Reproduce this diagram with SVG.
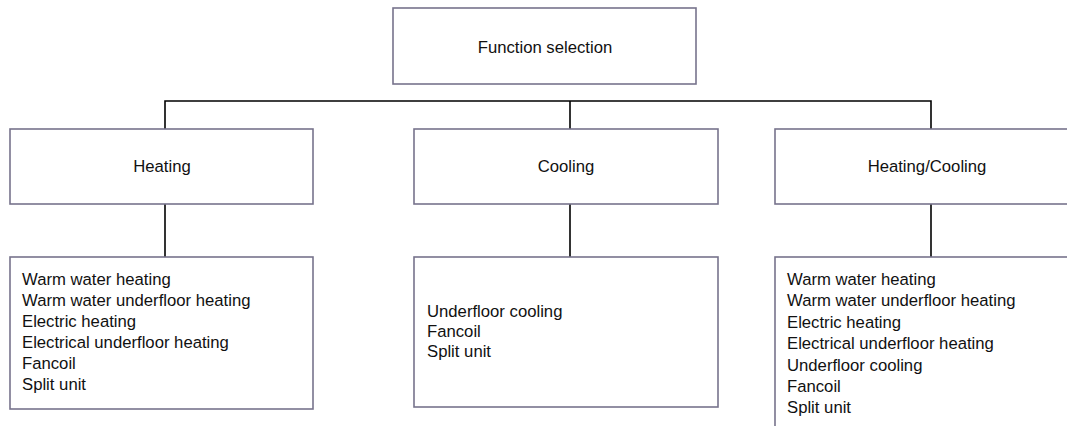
<svg xmlns="http://www.w3.org/2000/svg" width="1067" height="426" viewBox="0 0 1067 426">
<style>
.box{fill:#ffffff;stroke:#77738c;stroke-width:1.6}
.t{font-family:"Liberation Sans",Arial,sans-serif;font-size:16.7px;fill:#111111}
.c{text-anchor:middle}
.conn{fill:none;stroke:#000000;stroke-width:1.6}
</style>
<rect width="1067" height="426" fill="#ffffff"/>
<g id="connectors">
<path class="conn" d="M165,129 V101 H931 V129"/>
<path class="conn" d="M570,101 V129"/>
<path class="conn" d="M165,204 V257"/>
<path class="conn" d="M570,204 V257"/>
<path class="conn" d="M931,204 V257"/>
</g>
<g id="function-selection">
<rect class="box" x="393" y="8" width="303" height="76"/>
<text class="t c" x="545" y="52.5">Function selection</text>
</g>
<g id="heating">
<rect class="box" x="10" y="129" width="303" height="75"/>
<text class="t c" x="162" y="172">Heating</text>
</g>
<g id="cooling">
<rect class="box" x="414" y="129" width="304" height="75"/>
<text class="t c" x="566" y="172">Cooling</text>
</g>
<g id="heating-cooling">
<rect class="box" x="775" y="129" width="303" height="75"/>
<text class="t c" x="927" y="172">Heating/Cooling</text>
</g>
<g id="heating-list">
<rect class="box" x="10" y="257" width="303" height="152"/>
<text class="t" x="22" y="285">Warm water heating</text>
<text class="t" x="22" y="306">Warm water underfloor heating</text>
<text class="t" x="22" y="327">Electric heating</text>
<text class="t" x="22" y="348">Electrical underfloor heating</text>
<text class="t" x="22" y="369">Fancoil</text>
<text class="t" x="22" y="390">Split unit</text>
</g>
<g id="cooling-list">
<rect class="box" x="414" y="257" width="304" height="150"/>
<text class="t" x="427" y="316.7">Underfloor cooling</text>
<text class="t" x="427" y="336.7">Fancoil</text>
<text class="t" x="427" y="356.7">Split unit</text>
</g>
<g id="heating-cooling-list">
<rect class="box" x="775" y="257" width="303" height="190"/>
<text class="t" x="787" y="285">Warm water heating</text>
<text class="t" x="787" y="306.4">Warm water underfloor heating</text>
<text class="t" x="787" y="327.8">Electric heating</text>
<text class="t" x="787" y="349.2">Electrical underfloor heating</text>
<text class="t" x="787" y="370.6">Underfloor cooling</text>
<text class="t" x="787" y="392">Fancoil</text>
<text class="t" x="787" y="413.4">Split unit</text>
</g>
</svg>
